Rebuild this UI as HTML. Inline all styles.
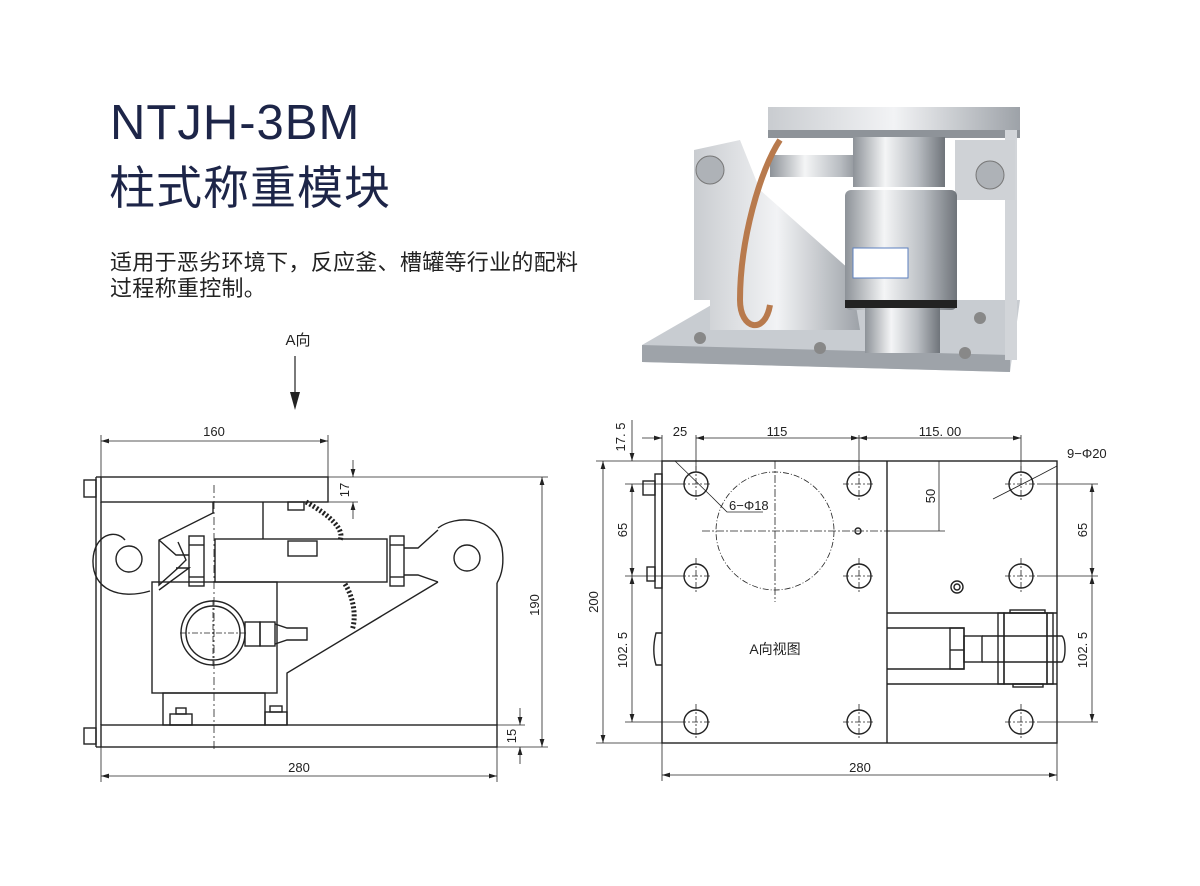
<!DOCTYPE html>
<html><head><meta charset="utf-8"><style>
html,body{margin:0;padding:0;background:#fff;}
body{width:1200px;height:886px;position:relative;overflow:hidden;font-family:"Liberation Sans","Noto Sans CJK SC",sans-serif;}
.t1{position:absolute;left:110px;top:95px;font-size:49px;color:#1d2548;letter-spacing:1px;}
.t2{position:absolute;left:109px;top:152px;font-size:46px;color:#1d2548;letter-spacing:1px;font-family:"Noto Sans CJK SC",sans-serif;}
.p{position:absolute;left:110px;top:248px;font-size:22px;line-height:26px;color:#222;letter-spacing:0.3px;font-family:"Noto Sans CJK SC",sans-serif;white-space:nowrap;}
svg{position:absolute;left:0;top:0;}
</style></head><body>
<div class="t1">NTJH-3BM</div>
<div class="t2">柱式称重模块</div>
<div class="p">适用于恶劣环境下，反应釜、槽罐等行业的配料<br>过程称重控制。</div>
<svg width="1200" height="886" viewBox="0 0 1200 886" font-family="Liberation Sans, Noto Sans CJK SC, sans-serif">
<defs>
<linearGradient id="m" x1="0" x2="1"><stop offset="0" stop-color="#c9ccd0"/><stop offset=".5" stop-color="#f2f3f5"/><stop offset="1" stop-color="#9da2a8"/></linearGradient>
<linearGradient id="cyl" x1="0" x2="1"><stop offset="0" stop-color="#8d9298"/><stop offset=".35" stop-color="#f4f5f6"/><stop offset=".7" stop-color="#b9bdc2"/><stop offset="1" stop-color="#6f747a"/></linearGradient>
<marker id="a" viewBox="0 0 10 6" refX="10" refY="3" markerWidth="10" markerHeight="6" orient="auto-start-reverse"><path d="M0,0L10,3L0,6z" fill="#222"/></marker>
</defs>
<!-- photo -->
<g>
<polygon points="642,345 720,300 1020,300 1010,372 642,362" fill="#c8ccd1"/>
<polygon points="642,345 1010,355 1010,372 642,362" fill="#9ea3a9"/>
<polygon points="694,150 740,140 760,190 850,270 860,330 710,330 710,300 694,300" fill="url(#m)"/>
<rect x="768" y="107" width="252" height="30" fill="url(#m)"/>
<rect x="768" y="130" width="252" height="8" fill="#8e9399"/>
<rect x="1005" y="130" width="12" height="230" fill="#d2d5d9"/>
<rect x="955" y="140" width="60" height="60" fill="#cfd2d6"/>
<circle cx="710" cy="170" r="14" fill="#aeb2b7" stroke="#777"/>
<circle cx="990" cy="175" r="14" fill="#aeb2b7" stroke="#777"/>
<rect x="770" y="155" width="100" height="22" fill="url(#cyl)"/>
<rect x="853" y="137" width="92" height="50" fill="url(#cyl)"/>
<rect x="845" y="190" width="112" height="120" rx="6" fill="url(#cyl)"/>
<rect x="845" y="300" width="112" height="8" fill="#222"/>
<rect x="865" y="308" width="75" height="45" fill="url(#cyl)"/>
<rect x="853" y="248" width="55" height="30" fill="#fff" stroke="#5b7fbf" stroke-width="1"/>
<path d="M780,140 C760,170 740,240 740,300 C740,330 765,335 770,305" fill="none" stroke="#b87a4d" stroke-width="6"/>
<circle cx="700" cy="338" r="6" fill="#888"/><circle cx="965" cy="353" r="6" fill="#888"/><circle cx="980" cy="318" r="6" fill="#888"/><circle cx="820" cy="348" r="6" fill="#888"/>
</g>
<g stroke="#222" fill="none" stroke-width="1.4">
<!-- LEFT DRAWING -->
<rect x="101" y="477" width="227" height="25"/>
<rect x="101" y="725" width="396" height="22"/>
<line x1="96" y1="477" x2="96" y2="747"/><line x1="101" y1="502" x2="101" y2="725"/><line x1="96" y1="477" x2="101" y2="477"/><line x1="96" y1="747" x2="101" y2="747"/>
<rect x="84" y="480" width="12" height="17"/><rect x="84" y="728" width="12" height="16"/>
<line x1="497" y1="583" x2="497" y2="725"/>
<path d="M213,502 V513 L159,540 V585 L178,568 L186,560 L178,542"/>
<path d="M263,502 V539"/>
<rect x="215" y="539" width="172" height="43"/>
<rect x="189" y="536" width="15" height="50"/><line x1="189" y1="545" x2="204" y2="545"/><line x1="189" y1="577" x2="204" y2="577"/>
<rect x="390" y="536" width="14" height="50"/><line x1="390" y1="545" x2="404" y2="545"/><line x1="390" y1="577" x2="404" y2="577"/>
<path d="M159,540 L176,555 L189,555 M176,568 L189,568 L159,590"/>
<path d="M404,548 L418,548 L438,530 M404,575 L418,575 L438,582"/>
<rect x="288" y="541" width="29" height="15"/>
<circle cx="129" cy="559" r="13"/>
<path d="M150,591 C120,600 92,590 93,560 C94,535 115,528 125,540"/>
<circle cx="467" cy="558" r="13"/>
<path d="M438,528 C455,515 495,515 502,548 C505,568 500,578 497,583"/>
<rect x="152" y="582" width="125" height="111"/>
<circle cx="213" cy="633" r="32"/><circle cx="213" cy="633" r="27"/>
<rect x="245" y="622" width="15" height="24"/><rect x="260" y="622" width="15" height="24"/><path d="M275,624 L287,628 H307 V640 H287 L275,644"/>
<path d="M438,582 L287,673 V725"/>
<rect x="163" y="693" width="102" height="32"/>
<rect x="170" y="714" width="22" height="11"/><rect x="176" y="708" width="10" height="6"/>
<rect x="265" y="712" width="22" height="13"/><rect x="270" y="706" width="12" height="6"/>
<rect x="288" y="502" width="16" height="8"/>
<path d="M306,502 C330,515 345,530 340,540" stroke-width="5" stroke-dasharray="2 2"/>
<path d="M345,584 C355,600 356,620 352,630" stroke-width="5" stroke-dasharray="2 2"/>
</g>
<g stroke="#222" stroke-width="0.8" fill="none">
<line x1="214" y1="485" x2="214" y2="750" stroke-dasharray="8 3 2 3"/>
<line x1="213" y1="600" x2="213" y2="666" stroke-dasharray="6 2 2 2"/>
<line x1="180" y1="633" x2="246" y2="633" stroke-dasharray="6 2 2 2"/>
<line x1="101" y1="435" x2="101" y2="477"/><line x1="328" y1="435" x2="328" y2="477"/>
<line x1="101" y1="441" x2="328" y2="441" marker-start="url(#a)" marker-end="url(#a)"/>
<line x1="328" y1="477" x2="548" y2="477"/><line x1="328" y1="502" x2="358" y2="502"/>
<line x1="353" y1="460" x2="353" y2="477" marker-end="url(#a)"/><line x1="353" y1="519" x2="353" y2="502" marker-end="url(#a)"/>
<line x1="542" y1="477" x2="542" y2="747" marker-start="url(#a)" marker-end="url(#a)"/>
<line x1="497" y1="747" x2="548" y2="747"/><line x1="497" y1="725" x2="525" y2="725"/>
<line x1="520" y1="708" x2="520" y2="725" marker-end="url(#a)"/><line x1="520" y1="764" x2="520" y2="747" marker-end="url(#a)"/>
<line x1="101" y1="747" x2="101" y2="782"/><line x1="497" y1="747" x2="497" y2="782"/>
<line x1="101" y1="776" x2="497" y2="776" marker-start="url(#a)" marker-end="url(#a)"/>
</g>
<line x1="295" y1="356" x2="295" y2="395" stroke="#222" stroke-width="1.2"/>
<polygon points="290,392 300,392 295,410" fill="#222"/>
<g font-size="13" fill="#222">
<text x="298" y="345" text-anchor="middle" font-size="15">A向</text>
<text x="214" y="436" text-anchor="middle">160</text>
<text x="299" y="772" text-anchor="middle">280</text>
<text transform="translate(349,490) rotate(-90)" text-anchor="middle">17</text>
<text transform="translate(539,605) rotate(-90)" text-anchor="middle">190</text>
<text transform="translate(516,736) rotate(-90)" text-anchor="middle">15</text>
</g>
<!-- RIGHT DRAWING -->
<g stroke="#222" fill="none" stroke-width="1.4">
<rect x="662" y="461" width="395" height="282"/>
<line x1="887" y1="461" x2="887" y2="743"/>
<rect x="655" y="474" width="7" height="114"/>
<rect x="643" y="481" width="12" height="14"/><rect x="647" y="567" width="8" height="14"/>
<path d="M662,633 H656 C653,645 653,655 656,665 H662"/>
<g>
<circle cx="696" cy="484" r="12"/><circle cx="859" cy="484" r="12"/><circle cx="1021" cy="484" r="12"/>
<circle cx="696" cy="576" r="12"/><circle cx="859" cy="576" r="12"/><circle cx="1021" cy="576" r="12"/>
<circle cx="696" cy="722" r="12"/><circle cx="859" cy="722" r="12"/><circle cx="1021" cy="722" r="12"/>
</g>
<circle cx="858" cy="531" r="3"/>
<circle cx="957" cy="587" r="6"/><circle cx="957" cy="587" r="3"/>
<path d="M887,613 H1057 M887,684 H1057"/>
<path d="M887,628 H964 V669 H887"/>
<rect x="950" y="628" width="14" height="41"/><line x1="950" y1="650" x2="964" y2="650"/>
<rect x="964" y="636" width="18" height="26"/>
<path d="M982,636 H1062 C1066,640 1066,658 1062,662 H982"/>
<rect x="998" y="613" width="6" height="71"/><rect x="1004" y="613" width="43" height="71"/><rect x="1047" y="613" width="6" height="71"/>
<rect x="1010" y="610" width="35" height="3"/><rect x="1013" y="684" width="30" height="3"/>
</g>
<g stroke="#222" stroke-width="0.8" fill="none">
<circle cx="775" cy="531" r="59" stroke-dasharray="6 2 1 2"/>
<line x1="702" y1="531" x2="890" y2="531" stroke-dasharray="8 2 2 2"/>
<line x1="775" y1="461" x2="775" y2="602" stroke-dasharray="8 2 2 2"/>
<g stroke-dasharray="6 2 2 2">
<line x1="696" y1="466" x2="696" y2="500"/><line x1="680" y1="484" x2="712" y2="484"/>
<line x1="859" y1="466" x2="859" y2="500"/><line x1="843" y1="484" x2="875" y2="484"/>
<line x1="1021" y1="466" x2="1021" y2="500"/><line x1="1005" y1="484" x2="1037" y2="484"/>
<line x1="696" y1="558" x2="696" y2="594"/><line x1="680" y1="576" x2="712" y2="576"/>
<line x1="859" y1="558" x2="859" y2="594"/><line x1="843" y1="576" x2="875" y2="576"/>
<line x1="1021" y1="558" x2="1021" y2="594"/><line x1="1005" y1="576" x2="1037" y2="576"/>
<line x1="696" y1="704" x2="696" y2="740"/><line x1="680" y1="722" x2="712" y2="722"/>
<line x1="859" y1="704" x2="859" y2="740"/><line x1="843" y1="722" x2="875" y2="722"/>
<line x1="1021" y1="704" x2="1021" y2="740"/><line x1="1005" y1="722" x2="1037" y2="722"/>
</g>
<line x1="675" y1="461" x2="712" y2="497"/>
<path d="M712,497 L727,512 H763"/>
<line x1="993" y1="499" x2="1040" y2="475"/><line x1="1040" y1="475" x2="1057" y2="466"/>
<line x1="939" y1="461" x2="939" y2="531"/><line x1="887" y1="531" x2="945" y2="531"/>
<line x1="662" y1="435" x2="662" y2="461"/><line x1="696" y1="435" x2="696" y2="470"/><line x1="859" y1="435" x2="859" y2="470"/><line x1="1021" y1="435" x2="1021" y2="470"/>
<line x1="642" y1="438" x2="662" y2="438" marker-end="url(#a)"/><line x1="696" y1="438" x2="859" y2="438" marker-start="url(#a)" marker-end="url(#a)"/>
<line x1="859" y1="438" x2="1021" y2="438" marker-start="url(#a)" marker-end="url(#a)"/>
<line x1="596" y1="461" x2="662" y2="461"/><line x1="596" y1="743" x2="662" y2="743"/>
<line x1="603" y1="461" x2="603" y2="743" marker-start="url(#a)" marker-end="url(#a)"/>
<line x1="625" y1="484" x2="680" y2="484"/><line x1="625" y1="576" x2="680" y2="576"/><line x1="625" y1="722" x2="680" y2="722"/>
<line x1="632" y1="420" x2="632" y2="461" marker-end="url(#a)"/>
<line x1="632" y1="484" x2="632" y2="576" marker-start="url(#a)" marker-end="url(#a)"/>
<line x1="632" y1="576" x2="632" y2="722" marker-start="url(#a)" marker-end="url(#a)"/>
<line x1="1037" y1="484" x2="1098" y2="484"/><line x1="1037" y1="576" x2="1098" y2="576"/><line x1="1037" y1="722" x2="1098" y2="722"/>
<line x1="1092" y1="484" x2="1092" y2="576" marker-start="url(#a)" marker-end="url(#a)"/>
<line x1="1092" y1="576" x2="1092" y2="722" marker-start="url(#a)" marker-end="url(#a)"/>
<line x1="662" y1="743" x2="662" y2="781"/><line x1="1057" y1="743" x2="1057" y2="781"/>
<line x1="662" y1="775" x2="1057" y2="775" marker-start="url(#a)" marker-end="url(#a)"/>
</g>
<g font-size="13" fill="#222">
<text x="680" y="436" text-anchor="middle">25</text>
<text x="777" y="436" text-anchor="middle">115</text>
<text x="940" y="436" text-anchor="middle">115. 00</text>
<text x="1067" y="458">9−Φ20</text>
<text x="729" y="510">6−Φ18</text>
<text x="775" y="654" text-anchor="middle" font-size="14">A向视图</text>
<text x="860" y="772" text-anchor="middle">280</text>
<text transform="translate(625,437) rotate(-90)" text-anchor="middle">17. 5</text>
<text transform="translate(598,602) rotate(-90)" text-anchor="middle">200</text>
<text transform="translate(627,530) rotate(-90)" text-anchor="middle">65</text>
<text transform="translate(627,650) rotate(-90)" text-anchor="middle">102. 5</text>
<text transform="translate(935,496) rotate(-90)" text-anchor="middle">50</text>
<text transform="translate(1087,530) rotate(-90)" text-anchor="middle">65</text>
<text transform="translate(1087,650) rotate(-90)" text-anchor="middle">102. 5</text>
</g>
</svg>
</body></html>
